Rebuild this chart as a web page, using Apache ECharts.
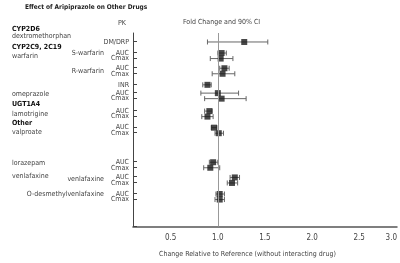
<!DOCTYPE html>
<html>
<head>
<meta charset="utf-8">
<script src="https://cdn.jsdelivr.net/npm/echarts@6/dist/echarts.min.js"></script>
<style>
  html, body { margin: 0; padding: 0; background: #fff; }
  #chart { width: 400px; height: 263px; }
</style>
</head>
<body>
<div id="chart"></div>
<script>
// PK rows, top to bottom
var pkLabels = ['DM/DRP', 'AUC', 'Cmax', 'AUC', 'Cmax', 'INR', 'AUC', 'Cmax', 'AUC', 'Cmax',
  'AUC', 'Cmax', 'AUC', 'Cmax', 'AUC', 'Cmax', 'AUC', 'Cmax'];
var foldChange = [1.28, 1.04, 1.03, 1.07, 1.05, 0.89, 1.00, 1.04, 0.91, 0.89,
  0.96, 1.01, 0.95, 0.92, 1.18, 1.15, 1.02, 1.02];
var ciLow = [0.89, 1.00, 0.92, 1.02, 0.94, 0.84, 0.82, 0.86, 0.86, 0.83,
  0.93, 0.97, 0.91, 0.85, 1.13, 1.10, 0.98, 0.97];
var ciHigh = [1.53, 1.09, 1.16, 1.12, 1.18, 0.93, 1.22, 1.30, 0.94, 0.95,
  0.99, 1.06, 1.00, 1.02, 1.23, 1.21, 1.07, 1.07];

// left column texts
var groupNames = ['CYP2D6', 'CYP2C9, 2C19', 'UGT1A4', 'Other'];
var leftTexts = ['CYP2D6', 'dextromethorphan', 'CYP2C9, 2C19', 'warfarin', 'omeprazole', 'UGT1A4',
  'lamotrigine', 'Other', 'valproate', 'lorazepam', 'venlafaxine'];
var subDrugs = ['S-warfarin', 'R-warfarin', 'venlafaxine', 'O-desmethylvenlafaxine'];

var tickValues = [0.5, 1.0, 1.5, 2.0, 2.5, 3.0];
var tickLabels = ['0.5', '1.0', '1.5', '2.0', '2.5', '3.0'];

// layout: fine row slots so the uneven spacing can be kept
var SLOTS = 140, TOPPAD = 7;
var rowSlot = [6, 14, 18, 25, 29, 37, 43, 47, 56, 60, 68, 72, 93, 97, 104, 108, 116, 120];
var leftSlot = [4, 9, 17, 23, 51, 58, 65, 72, 78, 101, 110];
var subSlot = [14, 27, 105, 116];
var xMin = 0.1, xMax = 2.9;

function fill(n, slots, texts) {
  var arr = [];
  for (var i = 0; i < n; i++) arr.push('');
  slots.forEach(function (s, i) { arr[s] = texts[i]; });
  return arr;
}
var pkCats = fill(SLOTS, rowSlot, pkLabels);
var subCats = fill(SLOTS, subSlot, subDrugs);
var leftCats = fill(SLOTS + TOPPAD, leftSlot, leftTexts);

var points = [], bars = [];
for (var i = 0; i < pkLabels.length; i++) {
  points.push([foldChange[i], rowSlot[i]]);
  bars.push([ciLow[i], rowSlot[i], ciHigh[i]]);
}

var FONT = '"Liberation Sans Narrow", "DejaVu Sans Condensed", sans-serif';
var chart = echarts.init(document.getElementById('chart'));

chart.setOption({
  backgroundColor: '#fff',
  animation: false,
  title: [{
    text: 'Effect of Aripiprazole on Other Drugs',
    left: 25, top: 4, padding: 0,
    textStyle: { fontFamily: FONT, fontSize: 6.5, fontWeight: 'bold', color: '#222' }
  }, {
    text: 'PK',
    left: 118, top: 20, padding: 0,
    textStyle: { fontFamily: FONT, fontSize: 7, fontWeight: 'normal', color: '#444' }
  }, {
    text: 'Fold Change and 90% CI',
    left: 183, top: 19, padding: 0,
    textStyle: { fontFamily: FONT, fontSize: 7, fontWeight: 'normal', color: '#444' }
  }],
  grid: [
    { left: 133, right: 2, top: 33, bottom: 36.5 },
    { left: 12, width: 100, top: 33 - TOPPAD * 193.5 / SLOTS, bottom: 36.5 }
  ],
  xAxis: [{
    gridIndex: 0,
    type: 'value',
    position: 'bottom',
    min: xMin,
    max: xMax,
    axisLine: { show: true, onZero: false, lineStyle: { color: '#555', width: 1.6 } },
    axisTick: { show: false },
    splitLine: { show: false },
    axisLabel: {
      customValues: tickValues.map(function (v) { return Math.min(v, xMax - 0.06); }),
      formatter: function (v) {
        var k = 0, best = 1e9;
        tickValues.forEach(function (t, j) {
          var d = Math.abs(Math.min(t, xMax - 0.06) - v);
          if (d < best) { best = d; k = j; }
        });
        return tickLabels[k];
      },
      margin: 7,
      fontFamily: FONT, fontSize: 8, color: '#444'
    },
    name: 'Change Relative to Reference (without interacting drug)',
    nameLocation: 'middle',
    nameGap: 24,
    nameTextStyle: { fontFamily: FONT, fontSize: 7, color: '#444', padding: [0, 35, 0, 0] }
  }, {
    gridIndex: 1, type: 'value', show: false
  }],
  yAxis: [{
    gridIndex: 0,
    type: 'category',
    data: pkCats,
    inverse: true,
    axisLine: { show: true, lineStyle: { color: '#444', width: 1 } },
    axisTick: {
      show: true, inside: true, length: 4,
      interval: function (idx, val) { return val !== ''; },
      lineStyle: { color: '#444', width: 1 }
    },
    axisLabel: {
      interval: 0, margin: 4,
      fontFamily: FONT, fontSize: 7, color: '#444', lineHeight: 7
    },
    splitLine: { show: false }
  }, {
    gridIndex: 0,
    type: 'category',
    data: subCats,
    inverse: true,
    position: 'left',
    offset: 29,
    axisLine: { show: false },
    axisTick: { show: false },
    axisLabel: { interval: 0, margin: 0, fontFamily: FONT, fontSize: 7, color: '#444' }
  }, {
    gridIndex: 1,
    type: 'category',
    data: leftCats,
    inverse: true,
    axisLine: { show: false },
    axisTick: { show: false },
    axisLabel: {
      interval: 0, margin: 0, align: 'left',
      formatter: function (v) {
        return groupNames.indexOf(v) >= 0 ? '{h|' + v + '}' : '{d|' + v + '}';
      },
      rich: {
        h: { fontFamily: FONT, fontSize: 7, fontWeight: 'bold', color: '#111' },
        d: { fontFamily: FONT, fontSize: 7, color: '#444' }
      }
    }
  }],
  series: [{
    type: 'custom',
    xAxisIndex: 0,
    yAxisIndex: 0,
    data: bars,
    encode: { x: [0, 2], y: 1 },
    renderItem: function (params, api) {
      var a = api.coord([api.value(0), api.value(1)]);
      var b = api.coord([api.value(2), api.value(1)]);
      var st = { stroke: '#666', lineWidth: 1 };
      return {
        type: 'group',
        children: [
          { type: 'line', shape: { x1: a[0], y1: a[1], x2: b[0], y2: b[1] }, style: st },
          { type: 'line', shape: { x1: a[0], y1: a[1] - 2.5, x2: a[0], y2: a[1] + 2.5 }, style: st },
          { type: 'line', shape: { x1: b[0], y1: b[1] - 2.5, x2: b[0], y2: b[1] + 2.5 }, style: st }
        ]
      };
    },
    z: 2
  }, {
    type: 'scatter',
    xAxisIndex: 0,
    yAxisIndex: 0,
    data: points,
    symbol: 'rect',
    symbolSize: 6,
    itemStyle: { color: '#1a1a1a' },
    markLine: {
      silent: true,
      symbol: 'none',
      label: { show: false },
      lineStyle: { color: '#999', width: 1, type: 'solid' },
      data: [{ xAxis: 1.0 }]
    },
    z: 3
  }]
});
</script>
</body>
</html>
